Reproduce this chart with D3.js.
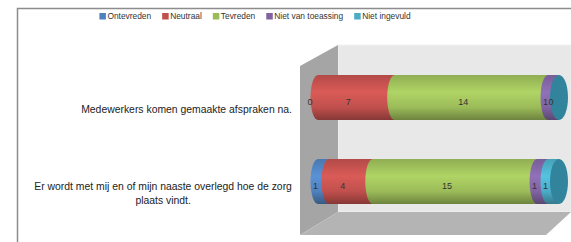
<!DOCTYPE html>
<html>
<head>
<meta charset="utf-8">
<style>
  body { margin: 0; background: #fff; }
  svg { display: block; font-family: "Liberation Sans", Arial, sans-serif; }
</style>
</head>
<body>
<svg width="571" height="242"></svg>
<script src="https://d3js.org/d3.v7.min.js"></script>
<script>

// data
var categories = [
	"Medewerkers komen gemaakte afspraken na.",
	"Er wordt met mij en of mijn naaste overlegd hoe de zorg plaats vindt."
]
var series = ["Ontevreden", "Neutraal", "Tevreden", "Niet van toeassing", "Niet ingevuld"]
var ontevreden = [0, 1]
var neutraal = [7, 4]
var tevreden = [14, 15]
var nietVanToepassing = [1, 1]
var nietIngevuld = [0, 1]
var xMax = 22

var colors = ["#4f81bd", "#c0504d", "#9bbb59", "#8064a2", "#4bacc6"]
var endCap = "#31849b"

var values = [ontevreden, neutraal, tevreden, nietVanToepassing, nietIngevuld]

var svg = d3.select('svg')
var defs = svg.append('defs')

// cylinder shading per colour
colors.forEach(function(c, i) {
	var g = defs.append('linearGradient')
		.attr('id', 'cyl' + i)
		.attr('x1', 0).attr('y1', 0).attr('x2', 0).attr('y2', 1)
	var base = d3.color(c)
	g.append('stop').attr('offset', '0%').attr('stop-color', base.darker(0.2))
	g.append('stop').attr('offset', '38%').attr('stop-color', base.brighter(0.35))
	g.append('stop').attr('offset', '72%').attr('stop-color', base)
	g.append('stop').attr('offset', '100%').attr('stop-color', base.darker(1))
})

// frame
svg.append('path')
	.attr('d', 'M17.5,242 V8.5 H571')
	.attr('fill', 'none')
	.attr('stroke', '#8c8c8c')
	.attr('stroke-width', 1.5)

// 3d box: back wall, side wall, floor
svg.append('polygon')
	.attr('points', '338,45 571,45 571,212 338,212')
	.attr('fill', '#e8e8e8')
	.attr('stroke', '#f2f2f2')
svg.append('polygon')
	.attr('points', '300,66 338,45 338,212 300,235')
	.attr('fill', '#a5a5a5')
svg.append('polygon')
	.attr('points', '300,235 338,212 571,212 546,235')
	.attr('fill', '#b4b4b4')

var x = d3.scaleLinear().domain([0, xMax]).range([318, 559])
var y = d3.scalePoint().domain(categories).range([55.5, 223.5]).padding(0.5)
var h = 45, rx = 7.5

// stacked
var rows = categories.map(function(cat, ci) {
	var acc = 0
	return series.map(function(s, si) {
		var v = values[si][ci]
		var seg = { cat: cat, si: si, v: v, x0: acc, x1: acc + v }
		acc += v
		return seg
	})
})

rows.forEach(function(row) {
	var g = svg.append('g')
	var cy = y(row[0].cat)
	row.forEach(function(d) {
		if (d.v == 0) return
		g.append('rect')
			.attr('x', x(d.x0))
			.attr('y', cy - h / 2)
			.attr('width', x(d.x1) - x(d.x0))
			.attr('height', h)
			.attr('fill', 'url(#cyl' + d.si + ')')
		g.append('ellipse')
			.attr('cx', x(d.x0))
			.attr('cy', cy)
			.attr('rx', rx)
			.attr('ry', h / 2)
			.attr('fill', 'url(#cyl' + d.si + ')')
	})
	var total = row[row.length - 1].x1
	g.append('ellipse')
		.attr('cx', x(total))
		.attr('cy', cy)
		.attr('rx', rx + 1.5)
		.attr('ry', h / 2)
		.attr('fill', endCap)

	// value labels
	g.selectAll('text')
		.data(row)
		.join('text')
		.attr('x', function(d) { return x((d.x0 + d.x1) / 2) - 8 })
		.attr('y', cy + 5.5)
		.attr('text-anchor', 'middle')
		.attr('dominant-baseline', 'middle')
		.attr('font-size', 9)
		.attr('fill', '#333')
		.text(function(d) { return d.v })
})

// category labels
var catLines = [
	["Medewerkers komen gemaakte afspraken na."],
	["Er wordt met mij en of mijn naaste overlegd hoe de zorg", "plaats vindt."]
]
categories.forEach(function(cat, ci) {
	var lines = catLines[ci]
	var t = svg.append('text')
		.attr('font-size', 10.4)
		.attr('fill', '#222')
		.attr('text-anchor', 'middle')
	lines.forEach(function(line, li) {
		t.append('tspan')
			.attr('x', 0)
			.attr('y', y(cat) + 12.5 + (li - (lines.length - 1) / 2) * 14)
			.attr('dominant-baseline', 'middle')
			.text(line)
	})
	var w = t.node().getBBox().width
	t.attr('transform', 'translate(' + (292 - w / 2) + ',0)')
})

// legend
var legend = svg.append('g')
var lx = 0
series.forEach(function(s, i) {
	var it = legend.append('g').attr('transform', 'translate(' + lx + ',0)')
	it.append('rect').attr('x', 0).attr('y', -3).attr('width', 6.5).attr('height', 6.5)
		.attr('fill', colors[i])
	var tx = it.append('text').attr('x', 8).attr('y', 0.5)
		.attr('dominant-baseline', 'middle')
		.attr('font-size', 8.4)
		.attr('fill', '#333')
		.text(s)
	lx += 8 + tx.node().getComputedTextLength() + 11
})
var lw = lx - 11
legend.attr('transform', 'translate(' + (255 - lw / 2) + ',16)')

</script>
</body>
</html>
